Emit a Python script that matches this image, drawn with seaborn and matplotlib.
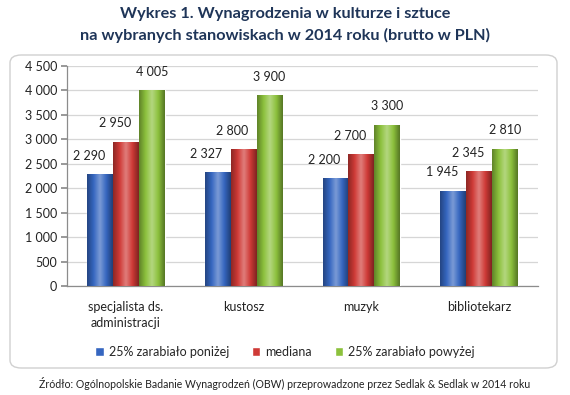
import matplotlib
matplotlib.use("Agg")
import matplotlib.pyplot as plt
import seaborn as sns
import pandas as pd
import numpy as np
from matplotlib.patches import FancyBboxPatch
from matplotlib.colors import LinearSegmentedColormap, to_rgb

categories = ["specjalista ds.\nadministracji", "kustosz", "muzyk", "bibliotekarz"]
series_names = ["25% zarabiało poniżej", "mediana", "25% zarabiało powyżej"]
low25 = [2290, 2327, 2200, 1945]
median = [2950, 2800, 2700, 2345]
high25 = [4005, 3900, 3300, 2810]
yticks = [0, 500, 1000, 1500, 2000, 2500, 3000, 3500, 4000, 4500]

colors = ["#3566c0", "#cf3a36", "#8cc13c"]

rows = []
for name, vals in zip(series_names, [low25, median, high25]):
    for c, v in zip(categories, vals):
        rows.append({"kategoria": c, "seria": name, "wartosc": v})
df = pd.DataFrame(rows)

sns.set_theme(style="white")
plt.rcParams["font.family"] = ["Lato", "DejaVu Sans"]

fig = plt.figure(figsize=(5.7, 3.95), dpi=100)
fig.patch.set_facecolor("white")

# rounded frame
frame = FancyBboxPatch((10 / 570, 1 - 368 / 395), (557 - 10) / 570, (368 - 55) / 395,
                       boxstyle="round,pad=0,rounding_size=0.02",
                       transform=fig.transFigure, facecolor="white",
                       edgecolor="#d0d0d0", linewidth=1.0, zorder=-5)
fig.patches.append(frame)

ax = fig.add_axes([67 / 570, 1 - 286 / 395, (538 - 67) / 570, (286 - 66) / 395])
ax.set_facecolor("none")
ax.set_zorder(2)

sns.barplot(data=df, x="kategoria", y="wartosc", hue="seria", palette=colors,
            width=0.66, gap=0, ax=ax, legend=True, saturation=1, zorder=3)

ax.set_ylim(0, 4500)
ax.set_yticks(yticks)
ax.set_yticklabels([f"{v:,}".replace(",", " ") for v in yticks], fontsize=9, color="#222222")
ax.set_xlim(-0.5, len(categories) - 0.5)
ax.set_xlabel("")
ax.set_ylabel("")
ax.grid(axis="y", color="#d6d6d6", linewidth=0.9, zorder=0)
ax.set_axisbelow(True)
for s in ["top", "right"]:
    ax.spines[s].set_visible(False)
for s in ["left", "bottom"]:
    ax.spines[s].set_color("#8c8c8c")
    ax.spines[s].set_linewidth(0.9)

ax.set_xticks(range(len(categories)))
ax.set_xticklabels(categories, fontsize=9, color="#222222", linespacing=1.35)
ax.tick_params(axis="x", which="major", length=0, pad=11)
ax.set_xticks([i + 0.5 for i in range(len(categories))], minor=True)
ax.tick_params(axis="x", which="minor", length=4, color="#8c8c8c", direction="out")
ax.tick_params(axis="y", length=4, color="#8c8c8c", direction="out", pad=3, left=True)

# cylinder shading + labels
label_dx = [-8, -8, 0]
for ci, cont in enumerate(ax.containers):
    base = np.array(to_rgb(colors[ci]))
    dark = base * 0.68
    light = np.clip(base + (1 - base) * 0.35, 0, 1)
    cmap = LinearSegmentedColormap.from_list("cyl", [dark, base, light, base, dark * 0.9])
    grad = np.linspace(0, 1, 64).reshape(1, -1)
    for bar in cont:
        x0, w, h = bar.get_x(), bar.get_width(), bar.get_height()
        im = ax.imshow(grad, extent=(x0, x0 + w, 0, h), aspect="auto", cmap=cmap,
                       zorder=4, interpolation="bicubic")
        im.set_clip_path(bar)
        ax.annotate(f"{int(h):,}".replace(",", " "), (x0 + w / 2, h),
                    xytext=(label_dx[ci], 9), textcoords="offset points",
                    ha="center", va="bottom", fontsize=9, color="#222222", zorder=5)
ax.set_xlim(-0.5, len(categories) - 0.5)
ax.set_ylim(0, 4500)

leg = ax.get_legend()
handles = leg.legend_handles
leg.remove()
fig.legend(handles, series_names, loc="center", bbox_to_anchor=(0.5, 1 - 352 / 395),
           ncol=3, frameon=False, fontsize=9, handlelength=0.7, handleheight=0.7,
           columnspacing=1.8, handletextpad=0.4)

fig.text(0.5, 1 - 14 / 395, "Wykres 1. Wynagrodzenia w kulturze i sztuce",
         ha="center", va="center", fontsize=11.7, fontweight="bold", color="#1f3558")
fig.text(0.5, 1 - 35 / 395, "na wybranych stanowiskach w 2014 roku (brutto w PLN)",
         ha="center", va="center", fontsize=11.7, fontweight="bold", color="#1f3558")
fig.text(0.5, 1 - 383 / 395,
         "Źródło: Ogólnopolskie Badanie Wynagrodzeń (OBW) przeprowadzone przez Sedlak & Sedlak w 2014 roku",
         ha="center", va="center", fontsize=7.6, color="#222222")

fig.savefig("out.png", dpi=100)
